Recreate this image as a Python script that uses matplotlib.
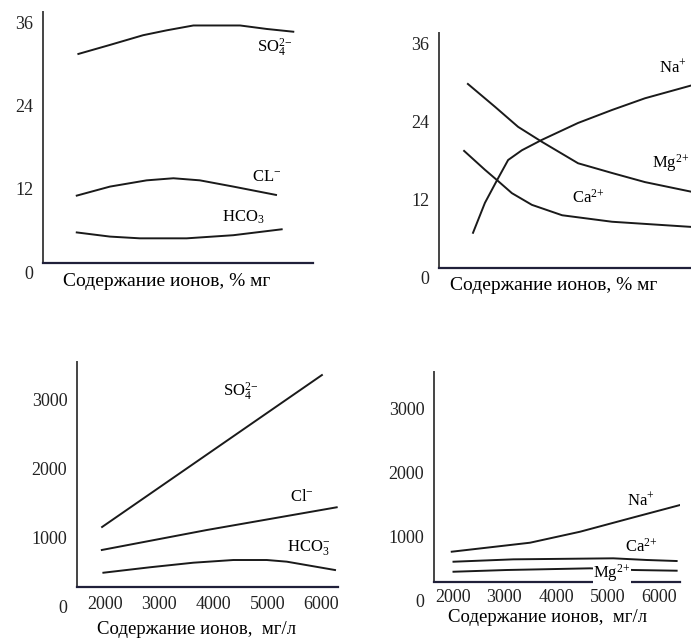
import matplotlib.pyplot as plt

plt.rcParams['font.family'] = ['Liberation Serif', 'DejaVu Serif']
plt.rcParams['mathtext.fontset'] = 'custom'
plt.rcParams['mathtext.rm'] = 'Liberation Serif'
plt.rcParams['mathtext.it'] = 'Liberation Serif:italic'

# --- top-left: anions, % мг (x axis has no scale)
anion_pct_so4_x = [13.1, 24.8, 37.1, 45.8, 55.7, 73.0, 82.8, 92.7]
anion_pct_so4_y = [31.4, 32.7, 34.1, 34.8, 35.5, 35.5, 35.0, 34.6]
anion_pct_cl_x = [12.5, 24.8, 38.4, 48.3, 58.1, 70.5, 86.3]
anion_pct_cl_y = [11.0, 12.3, 13.2, 13.5, 13.2, 12.3, 11.1]
anion_pct_hco3_x = [12.5, 24.8, 35.9, 53.2, 70.5, 88.4]
anion_pct_hco3_y = [5.7, 5.1, 4.85, 4.85, 5.3, 6.15]

# --- top-right: cations, % мг
cation_pct_na_x = [12.6, 17.0, 21.5, 25.6, 30.7, 38.1, 51.5, 64.1, 76.3, 93.7]
cation_pct_na_y = [6.8, 11.4, 14.9, 18.0, 19.5, 21.1, 23.7, 25.7, 27.5, 29.5]
cation_pct_mg_x = [10.7, 20.7, 29.3, 38.1, 51.5, 64.1, 76.3, 93.7]
cation_pct_mg_y = [29.7, 26.2, 23.1, 20.8, 17.5, 16.0, 14.6, 13.1]
cation_pct_ca_x = [9.3, 17.0, 21.5, 27.0, 34.4, 45.6, 64.1, 93.7]
cation_pct_ca_y = [19.4, 16.5, 14.9, 12.9, 11.1, 9.5, 8.5, 7.7]

pct_ticks = [0, 12, 24, 36]

# --- bottom-left: anions, мг/л
anion_mgl_so4_x = [1950, 6007]
anion_mgl_so4_y = [1158, 3357]
anion_mgl_cl_x = [1945, 3882, 6280]
anion_mgl_cl_y = [825, 1114, 1443]
anion_mgl_hco3_x = [1974, 2836, 3635, 4373, 4989, 5358, 6249]
anion_mgl_hco3_y = [496, 575, 641, 680, 680, 656, 535]

# --- bottom-right: cations, мг/л
cation_mgl_na_x = [1983, 3497, 4464, 5431, 6398]
cation_mgl_na_y = [765, 905, 1076, 1285, 1492]
cation_mgl_ca_x = [2017, 3174, 5108, 5753, 6333]
cation_mgl_ca_y = [609, 646, 662, 636, 620]
cation_mgl_mg_x = [2017, 3046, 4658, 5496, 6333]
cation_mgl_mg_y = [453, 480, 506, 480, 469]

mgl_yticks = [0, 1000, 2000, 3000]
mgl_xticks = [2000, 3000, 4000, 5000, 6000]

W, H = 691, 640
fig = plt.figure(figsize=(W / 100, H / 100), dpi=100)
fig.patch.set_facecolor('white')

LINE = '#1a1a1a'
SO4 = r'SO$_4^{2\!-}$'
CA = r'Ca$^{2\!+}$'
MG = r'Mg$^{2\!+}$'
NA = r'Na$^{+}$'


def px_axes(left, top, right, bottom):
    return fig.add_axes([left / W, 1 - bottom / H, (right - left) / W, (bottom - top) / H])


def style(ax, xlim, ylim, spine_y, yticks, xticks=None, xpad=6):
    ax.set_xlim(*xlim)
    ax.set_ylim(*ylim)
    ax.patch.set_alpha(0)
    for s in ['top', 'right']:
        ax.spines[s].set_visible(False)
    ax.spines['bottom'].set_position(('data', spine_y))
    ax.spines['bottom'].set_color('#20203a')
    ax.spines['bottom'].set_linewidth(1.6)
    ax.spines['left'].set_color('#444444')
    ax.spines['left'].set_linewidth(1.4)
    ax.spines['left'].set_bounds(spine_y, ylim[1])
    ax.set_yticks(yticks)
    ax.tick_params(axis='y', length=0, pad=7, labelsize=13, labelcolor='#222222')
    if xticks is None:
        ax.set_xticks([])
    else:
        ax.set_xticks(xticks)
        ax.tick_params(axis='x', length=0, pad=xpad, labelsize=13, labelcolor='#222222')


# top-left
ax1 = px_axes(43, 12, 313, 285)
style(ax1, (0, 100), (-1.87, 37.44), 1.3, pct_ticks)
ax1.plot(anion_pct_so4_x, anion_pct_so4_y, color=LINE, lw=1.4)
ax1.plot(anion_pct_cl_x, anion_pct_cl_y, color=LINE, lw=1.4)
ax1.plot(anion_pct_hco3_x, anion_pct_hco3_y, color=LINE, lw=1.4)
ax1.text(79.3, 32.3, SO4, fontsize=12, va='center')
ax1.text(77.4, 13.7, r'CL$^{-}$', fontsize=12, va='center')
ax1.text(66.3, 7.9, 'HCO$_3$', fontsize=12, va='center')
fig.text(167 / W, 1 - 282 / H, 'Содержание ионов, % мг', fontsize=14, ha='center', va='center')

# top-right
ax2 = px_axes(439, 33, 691, 290)
style(ax2, (0, 93.33), (-2.0, 37.54), 1.38, pct_ticks)
ax2.plot(cation_pct_na_x, cation_pct_na_y, color=LINE, lw=1.4)
ax2.plot(cation_pct_mg_x, cation_pct_mg_y, color=LINE, lw=1.4)
ax2.plot(cation_pct_ca_x, cation_pct_ca_y, color=LINE, lw=1.4)
ax2.text(81.5, 32.2, NA, fontsize=12, va='center')
ax2.text(79.0, 17.5, MG, fontsize=12, va='center')
ax2.text(49.3, 12.2, CA, fontsize=12, va='center')
fig.text(554 / W, 1 - 285 / H, 'Содержание ионов, % мг', fontsize=14, ha='center', va='center')

# bottom-left
ax3 = px_axes(77, 362, 338, 615)
style(ax3, (1487, 6304), (-116, 3546), 294, mgl_yticks, mgl_xticks, xpad=7)
ax3.plot(anion_mgl_so4_x, anion_mgl_so4_y, color=LINE, lw=1.4)
ax3.plot(anion_mgl_cl_x, anion_mgl_cl_y, color=LINE, lw=1.4)
ax3.plot(anion_mgl_hco3_x, anion_mgl_hco3_y, color=LINE, lw=1.4)
ax3.text(4183, 3111, SO4, fontsize=12, va='center')
ax3.text(5419, 1592, r'Cl$^{-}$', fontsize=12, va='center')
ax3.text(5363, 854, r'HCO$_3^{-}$', fontsize=12, va='center')
fig.text(197 / W, 1 - 630 / H, 'Содержание ионов,  мг/л', fontsize=13.5, ha='center', va='center')

# bottom-right
ax4 = px_axes(434, 372, 680, 610)
style(ax4, (1640, 6398), (-143, 3564), 293, mgl_yticks, mgl_xticks, xpad=5)
ax4.plot(cation_mgl_na_x, cation_mgl_na_y, color=LINE, lw=1.4)
ax4.plot(cation_mgl_ca_x, cation_mgl_ca_y, color=LINE, lw=1.4)
ax4.plot(cation_mgl_mg_x, cation_mgl_mg_y, color=LINE, lw=1.4)
ax4.text(5373, 1570, NA, fontsize=12, va='center')
ax4.text(5335, 838, CA, fontsize=12, va='center')
ax4.text(5083, 433, MG, fontsize=12, va='center', ha='center',
         bbox=dict(facecolor='white', edgecolor='none', pad=0.5))
fig.text(548 / W, 1 - 618 / H, 'Содержание ионов,  мг/л', fontsize=13.5, ha='center', va='center')

fig.savefig('out.png', dpi=100)
